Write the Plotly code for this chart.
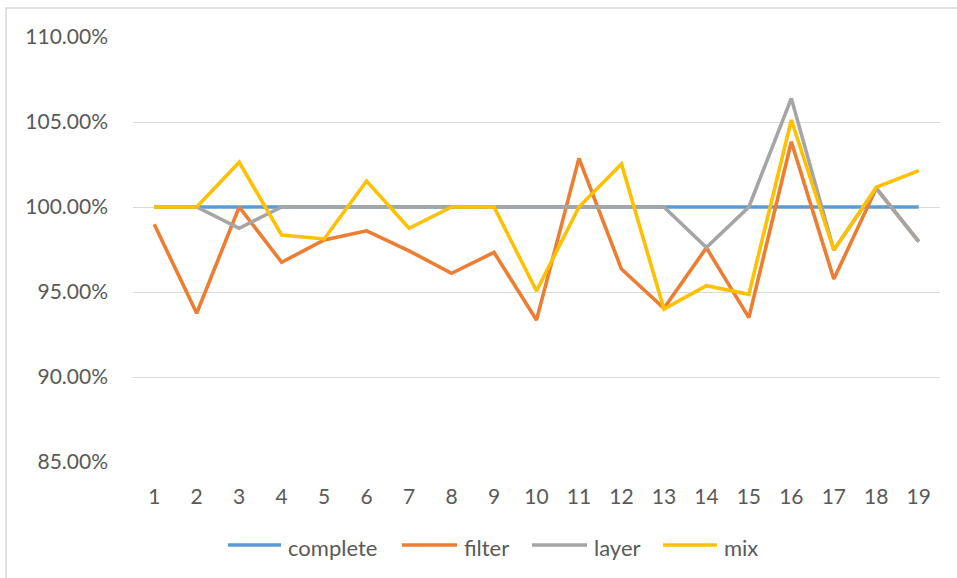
import plotly.graph_objects as go

# Run index on the x axis
runs = list(range(1, 20))

# Relative score of each strategy (1.0 = 100%)
complete = [1.0] * 19
filter_ = [0.9898, 0.9375, 1.0000, 0.9675, 0.9806, 0.9860, 0.9742, 0.9610, 0.9733, 0.9335,
           1.0286, 0.9635, 0.9404, 0.9760, 0.9349, 1.0384, 0.9576, 1.0110, 0.9796]
layer = [1.0000, 1.0000, 0.9875, 1.0000, 1.0000, 1.0000, 1.0000, 1.0000, 1.0000, 1.0000,
         1.0000, 1.0000, 1.0000, 0.9762, 1.0000, 1.0639, 0.9747, 1.0110, 0.9796]
mix = [1.0000, 1.0000, 1.0263, 0.9835, 0.9812, 1.0153, 0.9875, 1.0000, 1.0000, 0.9506,
       1.0000, 1.0253, 0.9400, 0.9537, 0.9486, 1.0512, 0.9747, 1.0116, 1.0214]

series = [
    ("complete", complete, "#5B9BD5"),
    ("filter", filter_, "#ED7D31"),
    ("layer", layer, "#A5A5A5"),
    ("mix", mix, "#FFC000"),
]

FONT = "Lato, Carlito, Calibri, sans-serif"
TXT = "#595959"

W, H = 957, 578
ML, MR, MT, MB = 133, 17, 37, 116
PW, PH = W - ML - MR, H - MT - MB


def px_x(p):
    # pixel column -> paper x
    return (p - ML) / PW


def px_y(p):
    # pixel row -> paper y
    return (H - MB - p) / PH


fig = go.Figure()
for name, vals, color in series:
    fig.add_trace(go.Scatter(
        x=runs, y=vals, name=name, mode="lines",
        line=dict(color=color, width=3.6), showlegend=False,
    ))

# Legend row below the axis: long line swatch followed by the series name
legend_slots = [(228, 281), (402, 457), (532, 587), (663, 717)]
shapes = [dict(type="rect", xref="paper", yref="paper",
               x0=px_x(6), x1=px_x(985), y0=px_y(600), y1=px_y(8),
               line=dict(color="#D9D9D9", width=1.5), fillcolor="rgba(0,0,0,0)",
               layer="below")]
annotations = []
for (name, _, color), (a, b) in zip(series, legend_slots):
    shapes.append(dict(type="line", xref="paper", yref="paper",
                       x0=px_x(a), x1=px_x(b), y0=px_y(545), y1=px_y(545),
                       line=dict(color=color, width=3.6)))
    annotations.append(dict(text=name, xref="paper", yref="paper",
                            x=px_x(b + 5), y=px_y(547), xanchor="left", yanchor="middle",
                            showarrow=False, font=dict(size=22, color=TXT, family=FONT)))

fig.update_layout(
    width=W, height=H,
    margin=dict(l=ML, r=MR, t=MT, b=MB),
    paper_bgcolor="white", plot_bgcolor="white",
    font=dict(family=FONT, size=21, color=TXT),
    showlegend=False,
    shapes=shapes,
    annotations=annotations,
)

fig.update_xaxes(
    range=[0.5, 19.5], tickmode="array", tickvals=runs, ticktext=[str(r) for r in runs],
    showgrid=False, zeroline=False, showline=False, ticks="",
    tickfont=dict(size=21, color=TXT), ticklabelstandoff=20,
)
fig.update_yaxes(
    range=[0.85, 1.10], tickmode="array",
    tickvals=[0.85, 0.90, 0.95, 1.00, 1.05, 1.10], tickformat=".2%",
    showgrid=True, gridcolor="#D9D9D9", gridwidth=1.3,
    zeroline=False, showline=False, ticks="",
    tickfont=dict(size=21, color=TXT), ticklabelstandoff=24,
)

fig.write_html("out.html")
